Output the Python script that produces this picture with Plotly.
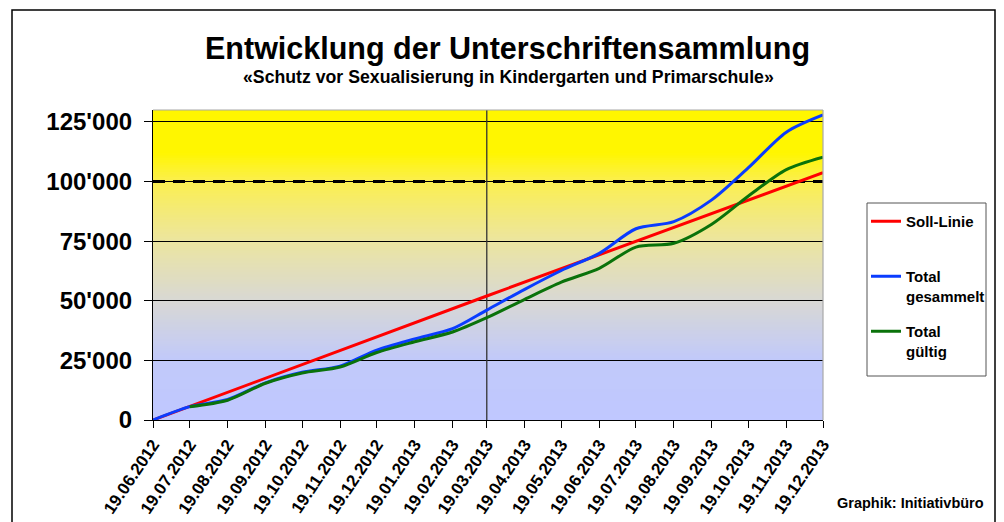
import plotly.graph_objects as go

# ---------------- data ----------------
SOLL_DATES = ["2012-06-19", "2013-03-19", "2013-12-19"]
SOLL_VALUES = [0, 52000, 103700]

GESAMMELT_DATES = ["2012-06-19", "2012-07-19", "2012-08-19", "2012-09-19", "2012-10-19",
                   "2012-11-19", "2012-12-19", "2013-01-19", "2013-02-19", "2013-03-19",
                   "2013-04-19", "2013-05-19", "2013-06-19", "2013-07-19", "2013-08-19",
                   "2013-09-19", "2013-10-19", "2013-11-19", "2013-12-19"]
GESAMMELT_VALUES = [0, 5600, 8600, 15600, 20000, 22600, 29300, 34000, 38300, 46100,
                    54800, 62700, 69900, 80200, 83200, 92300, 105800, 120700, 127900]

GUELTIG_DATES = ["2012-07-19", "2012-08-19", "2012-09-19", "2012-10-19", "2012-11-19",
                 "2012-12-19", "2013-01-19", "2013-02-19", "2013-03-19", "2013-04-19",
                 "2013-05-19", "2013-06-19", "2013-07-19", "2013-08-19", "2013-09-19",
                 "2013-10-19", "2013-11-19", "2013-12-19"]
GUELTIG_VALUES = [5600, 8300, 15400, 19700, 22200, 28300, 32800, 36900, 42900, 50600,
                  57800, 63600, 72500, 74100, 82100, 93900, 105000, 110200]

TARGET = 100000
MARK_DATE = "2013-03-19"

X_TICK_DATES = ["2012-06-19", "2012-07-19", "2012-08-19", "2012-09-19", "2012-10-19",
                "2012-11-19", "2012-12-19", "2013-01-19", "2013-02-19", "2013-03-19",
                "2013-04-19", "2013-05-19", "2013-06-19", "2013-07-19", "2013-08-19",
                "2013-09-19", "2013-10-19", "2013-11-19", "2013-12-19"]
X_TICK_LABELS = ["19.06.2012", "19.07.2012", "19.08.2012", "19.09.2012", "19.10.2012",
                 "19.11.2012", "19.12.2012", "19.01.2013", "19.02.2013", "19.03.2013",
                 "19.04.2013", "19.05.2013", "19.06.2013", "19.07.2013", "19.08.2013",
                 "19.09.2013", "19.10.2013", "19.11.2013", "19.12.2013"]
Y_TICK_VALUES = [0, 25000, 50000, 75000, 100000, 125000]
Y_TICK_LABELS = ["0", "25'000", "50'000", "75'000", "100'000", "125'000"]
Y_MAX = 130000

TITLE = "Entwicklung der Unterschriftensammlung"
SUBTITLE = "«Schutz vor Sexualisierung in Kindergarten und Primarschule»"
CREDIT = "Graphik: Initiativbüro"

FONT = "Liberation Sans, Arial, sans-serif"

# ---------------- geometry (window pixels; page body has an 8px margin) ----------------
OFF = 8
WIN_W, WIN_H = 1004, 522
W, H = WIN_W - OFF, WIN_H - OFF
PLOT_L, PLOT_R, PLOT_T, PLOT_B = 153, 823, 110, 420   # in window pixels
L = PLOT_L - OFF
T = PLOT_T - OFF
R = W - (PLOT_R - OFF)
B = H - (PLOT_B - OFF)
PW, PH = PLOT_R - PLOT_L, PLOT_B - PLOT_T


def px_x(px):
    return (px - PLOT_L) / PW


def px_y(py):
    return (PLOT_B - py) / PH


fig = go.Figure()

# reference lines (drawn first, beneath the series)
fig.add_trace(go.Scatter(x=[MARK_DATE, MARK_DATE], y=[0, Y_MAX], mode="lines", showlegend=False,
                         hoverinfo="skip", line=dict(color="#333333", width=1.3), cliponaxis=True))
fig.add_trace(go.Scatter(x=[X_TICK_DATES[0], X_TICK_DATES[-1]], y=[TARGET, TARGET], mode="lines",
                         showlegend=False, hoverinfo="skip",
                         line=dict(color="black", width=3, dash="12px,8px")))

fig.add_trace(go.Scatter(x=SOLL_DATES, y=SOLL_VALUES, mode="lines", name="Soll-Linie<br> ",
                         line=dict(color="#FF0000", width=3), legendgroup="a"))
fig.add_trace(go.Scatter(x=GESAMMELT_DATES, y=GESAMMELT_VALUES, mode="lines",
                         name="Total<br>gesammelt", legendgroup="b",
                         line=dict(color="#0A3CFF", width=3, shape="spline", smoothing=0.8)))
fig.add_trace(go.Scatter(x=GUELTIG_DATES, y=GUELTIG_VALUES, mode="lines",
                         name="Total<br>gültig", legendgroup="c",
                         line=dict(color="#0A720A", width=3, shape="spline", smoothing=0.8)))

shapes = []

# background gradient (yellow top -> blue bottom)
stops = [(0, (192, 200, 255)), (25000, (193, 201, 250)), (50000, (216, 216, 212)),
         (75000, (236, 229, 160)), (100000, (251, 239, 80)), (112000, (255, 246, 0)),
         (130000, (255, 246, 0))]


def col_at(v):
    for (v0, c0), (v1, c1) in zip(stops[:-1], stops[1:]):
        if v0 <= v <= v1:
            t = (v - v0) / (v1 - v0)
            return "rgb(%d,%d,%d)" % tuple(round(a + (b - a) * t) for a, b in zip(c0, c1))
    return "rgb(%d,%d,%d)" % stops[-1][1]


STEP = 1000
for v in range(0, Y_MAX, STEP):
    shapes.append(dict(type="rect", xref="x domain", yref="y", x0=0, x1=1, y0=v,
                       y1=min(v + 2 * STEP, Y_MAX),
                       fillcolor=col_at(v + STEP / 2), line=dict(width=0), layer="below"))

# plot area border (top/right grey)
shapes.append(dict(type="line", xref="x domain", yref="y domain", x0=0, x1=1, y0=1, y1=1,
                   line=dict(color="#A8A8A8", width=1.2), layer="above"))
shapes.append(dict(type="line", xref="x domain", yref="y domain", x0=1, x1=1, y0=0, y1=1,
                   line=dict(color="#A8A8A8", width=1.2), layer="above"))
# legend box
shapes.append(dict(type="rect", xref="paper", yref="paper", x0=px_x(867), x1=px_x(986),
                   y0=px_y(376), y1=px_y(203), line=dict(color="#555555", width=1),
                   fillcolor="white", layer="below"))
# outer frame
shapes.append(dict(type="rect", xref="paper", yref="paper", x0=px_x(12), x1=px_x(995),
                   y0=px_y(540), y1=px_y(10), line=dict(color="black", width=1.5),
                   layer="below"))

annotations = [
    dict(text=TITLE, xref="paper", yref="paper", x=px_x(507), y=px_y(48), showarrow=False,
         xanchor="center", yanchor="middle",
         font=dict(family=FONT, size=30.5, color="black", weight="bold")),
    dict(text=SUBTITLE, xref="paper", yref="paper", x=px_x(508), y=px_y(77), showarrow=False,
         xanchor="center", yanchor="middle",
         font=dict(family=FONT, size=17.7, color="black", weight="bold")),
    dict(text=CREDIT, xref="paper", yref="paper", x=px_x(986), y=px_y(503), showarrow=False,
         xanchor="right", yanchor="middle",
         font=dict(family=FONT, size=14.5, color="black", weight="bold")),
]

fig.update_layout(
    width=W, height=H,
    margin=dict(l=L, r=R, t=T, b=B, autoexpand=False),
    paper_bgcolor="white", plot_bgcolor="white",
    shapes=shapes, annotations=annotations,
    showlegend=True,
    legend=dict(x=px_x(866), y=px_y(205), xanchor="left", yanchor="top",
                bgcolor="rgba(0,0,0,0)", borderwidth=0, traceorder="grouped",
                tracegroupgap=13, valign="top",
                font=dict(family=FONT, size=15, color="black", weight="bold")),
    xaxis=dict(type="date", range=[X_TICK_DATES[0], X_TICK_DATES[-1]],
               tickmode="array", tickvals=X_TICK_DATES, ticktext=X_TICK_LABELS,
               tickangle=-56, ticks="outside", ticklen=7, tickcolor="black", tickwidth=1,
               showline=True, linecolor="black", linewidth=1.2, showgrid=False, zeroline=False,
               tickfont=dict(family=FONT, size=17, color="black", weight="bold")),
    yaxis=dict(range=[0, Y_MAX], tickmode="array", tickvals=Y_TICK_VALUES, ticktext=Y_TICK_LABELS,
               ticks="outside", ticklen=8, tickcolor="black", tickwidth=1,
               showline=True, linecolor="black", linewidth=1.2,
               showgrid=True, gridcolor="black", gridwidth=1, zeroline=False,
               ticklabelstandoff=7,
               tickfont=dict(family=FONT, size=24, color="black", weight="bold")),
)

fig.write_html("out.html")
